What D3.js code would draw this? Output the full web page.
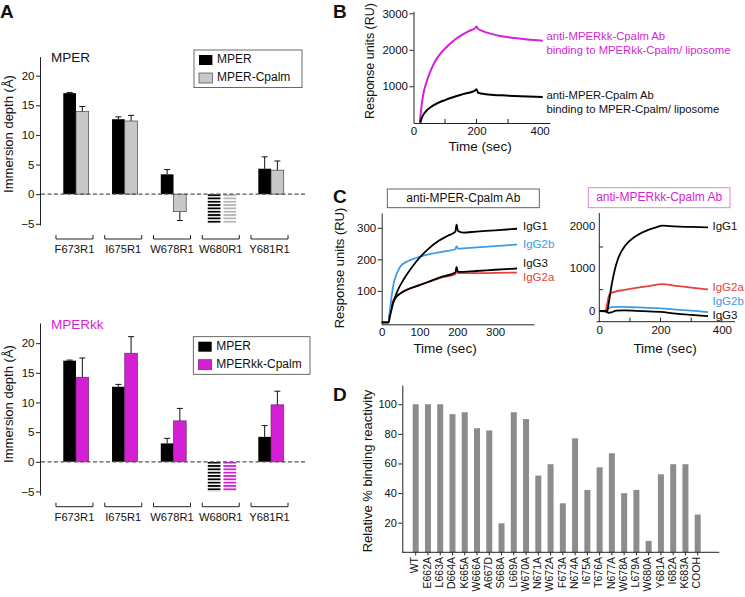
<!DOCTYPE html>
<html><head><meta charset="utf-8">
<script src="https://cdn.jsdelivr.net/npm/d3@7"></script>
<style>
body{margin:0;background:#fff}
svg{display:block}
text{font-family:"Liberation Sans",Arial,Helvetica,sans-serif}
</style>
</head><body>
<svg id="c" width="745" height="597"></svg>
<script>
// ---------------- DATA ----------------
const residues = ["F673R1","I675R1","W678R1","W680R1","Y681R1"];
const hatched = [false,false,false,true,false];
const depthTicks = [-5,0,5,10,15,20];
// panel A top: MPER vs MPER-Cpalm
const mperDepthTop = [17.05,12.65,3.35,-5,4.3];
const mperErrTop   = [0.1,0.4,0.8,0,2.0];
const cpalmDepth   = [13.95,12.35,-2.95,-5,4.05];
const cpalmErr     = [0.85,0.95,1.5,0,1.55];
// panel A bottom: MPER vs MPERkk-Cpalm
const mperDepthBot = [17.05,12.65,3.1,-5,4.2];
const mperErrBot   = [0.1,0.4,0.85,0,1.9];
const kkDepth      = [14.25,18.3,6.9,-5,9.6];
const kkErr        = [3.25,2.8,2.1,0,2.3];

// panel B: SPR sensorgrams [time s, RU]
const bKkCurve = [[20,0],[23,260],[27,560],[32,820],[40,1080],[50,1330],[60,1540],[75,1770],[90,1940],[110,2120],[130,2270],[150,2390],[175,2510],[196,2600],[200,2640],[204,2580],[220,2510],[250,2430],[280,2370],[320,2320],[360,2280],[410,2250]];
const bMperCurve = [[22,0],[25,100],[30,200],[40,320],[55,430],[75,530],[100,620],[130,710],[160,790],[195,880],[200,920],[205,820],[230,780],[280,750],[340,725],[410,705]];
const bTicksY = [1000,2000,3000];
const bTicksX = [0,200,400];

// panel C left: anti-MPER-Cpalm Ab isotypes
const cL_IgG1  = [[0,0],[18,0],[22,20],[30,60],[40,95],[60,140],[80,175],[100,205],[125,235],[150,258],[175,275],[195,288],[198,310],[202,290],[215,285],[250,288],[300,292],[358,297]];
const cL_IgG2b = [[0,0],[18,0],[22,40],[27,90],[33,130],[40,155],[50,178],[65,192],[80,200],[100,208],[130,217],[160,224],[195,232],[198,242],[202,234],[250,238],[300,242],[358,247]];
const cL_IgG3  = [[0,0],[18,0],[22,30],[28,55],[35,75],[50,92],[70,105],[100,118],[130,132],[160,145],[195,158],[198,176],[202,160],[250,163],[300,167],[358,171]];
const cL_IgG2a = [[0,0],[18,0],[22,35],[28,62],[35,78],[50,93],[70,106],[100,118],[130,131],[160,143],[195,153],[198,165],[202,156],[250,156],[300,157],[358,158]];
const cLTicksY = [100,200,300];
const cLTicksX = [0,100,200,300];

// panel C right: anti-MPERkk-Cpalm Ab isotypes
const cR_IgG1  = [[0,0],[20,0],[25,-20],[30,150],[40,600],[50,950],[60,1200],[75,1430],[100,1650],[130,1800],[160,1900],[190,1970],[205,2000],[230,1990],[300,1970],[355,1960]];
const cR_IgG2a = [[0,0],[20,0],[25,150],[30,330],[35,400],[50,450],[78,490],[120,540],[160,585],[205,630],[250,590],[300,550],[355,505]];
const cR_IgG2b = [[0,0],[20,0],[25,20],[30,60],[40,90],[70,95],[120,85],[200,60],[250,35],[300,10],[355,-25]];
const cR_IgG3  = [[0,0],[20,-5],[30,-40],[40,-30],[55,10],[80,15],[120,5],[200,-20],[250,-60],[300,-90],[355,-120]];
const cRTicksY = [0,1000,2000];
const cRTicksX = [0,200,400];

// panel D: alanine scan
const mutants = ["WT","E662A","L663A","D664A","K665A","W666A","A667D","S668A","L669A","W670A","N671A","W672A","F673A","N674A","I675A","T676A","N677A","W678A","L679A","W680A","Y681A","I682A","K683A","COOH"];
const reactivity = [100,100,100,93.3,94.6,83.8,82.3,19.6,94.6,90,51.8,59.5,33.1,77,42.1,57.4,66.9,39.9,42.1,7.7,52.7,59.5,59.5,25.5];
const dTicksY = [20,40,60,80,100];

// ---------------- STYLE ----------------
const MAG = "#d41fd4", RED = "#e8403c", BLUE = "#3c9be6", GRAY = "#c8c8c8", DGRAY = "#8c8c8c";
const FONT = '"Liberation Sans",Arial,Helvetica,sans-serif';
const fmt = d3.format("d");
const svg = d3.select("#c");
svg.append("rect").attr("width",745).attr("height",597).attr("fill","#fff");
const defs = svg.append("defs");

function styleAxis(g, fs){
  g.attr("font-family", FONT);
  g.selectAll("path,line").attr("stroke","#222").attr("stroke-width",1);
  g.selectAll("text").attr("font-size",fs).attr("fill","#111");
}
function label(x,y,t,o={}){
  const e = svg.append("text").attr("x",x).attr("y",y).text(t)
    .attr("font-size",o.fs||12).attr("fill",o.fill||"#111")
    .attr("text-anchor",o.anchor||"start").attr("dominant-baseline",o.base||"auto");
  if(o.weight) e.attr("font-weight",o.weight);
  if(o.rot) e.attr("transform",`rotate(${o.rot},${x},${y})`);
  return e;
}

// panel letters
label(0,18,"A",{fs:19,weight:"bold"});
label(333,18,"B",{fs:19,weight:"bold"});
label(333,203,"C",{fs:19,weight:"bold"});
label(333,401,"D",{fs:19,weight:"bold"});

// ---------------- PANEL A ----------------
function depthPanel(cfg){
  const y = d3.scaleLinear().domain(cfg.ydom).range(cfg.yrange);
  const x = d3.scaleBand().domain(residues).range([51.6,295.4]);
  const bw = 12.7;
  const y0 = y(0);
  const mk = (id,col)=>{
    const p = defs.append("pattern").attr("id",id).attr("patternUnits","userSpaceOnUse")
      .attr("width",6).attr("height",3.33).attr("y",y0);
    p.append("rect").attr("width",6).attr("height",1.8).attr("fill",col);
  };
  mk(cfg.id+"h1","#000"); mk(cfg.id+"h2",cfg.hatchCol);

  const ax = svg.append("g").attr("transform","translate(40,0)")
    .call(d3.axisLeft(y).tickValues(depthTicks).tickSize(4).tickPadding(1.5).tickSizeOuter(0));
  styleAxis(ax,11.5);

  const cx = r => x(r)+x.bandwidth()/2;
  const series = [
    {vals:cfg.v1,errs:cfg.e1,fill:"#000",stroke:"none",hatch:cfg.id+"h1",off:i=>hatched[i]?-bw-1.8:-bw},
    {vals:cfg.v2,errs:cfg.e2,fill:cfg.col2,stroke:cfg.stroke2,hatch:cfg.id+"h2",off:i=>hatched[i]?1.2:0}
  ];
  series.forEach(s=>{
    residues.forEach((r,i)=>{
      const v = s.vals[i];
      const bx = cx(r)+s.off(i);
      const top = Math.min(y(v),y0), h = Math.abs(y(v)-y0);
      if(hatched[i]){
        svg.append("rect").attr("x",bx).attr("y",top).attr("width",bw).attr("height",h)
          .attr("fill",`url(#${s.hatch})`);
      } else {
        svg.append("rect").attr("x",bx).attr("y",top).attr("width",bw).attr("height",h)
          .attr("fill",s.fill).attr("stroke",s.stroke).attr("stroke-width",0.7);
        const e = s.errs[i];
        if(e>0){
          const ye = v>=0 ? y(v+e) : y(v-e);
          const xm = bx+bw/2;
          svg.append("line").attr("x1",xm).attr("x2",xm).attr("y1",y(v)).attr("y2",ye).attr("stroke","#111").attr("stroke-width",1);
          svg.append("line").attr("x1",xm-3).attr("x2",xm+3).attr("y1",ye).attr("y2",ye).attr("stroke","#111").attr("stroke-width",1);
        }
      }
    });
  });
  svg.append("line").attr("x1",41).attr("x2",306.7).attr("y1",y0).attr("y2",y0)
    .attr("stroke","#555").attr("stroke-width",1.3).attr("stroke-dasharray","4,2.5");
  residues.forEach(r=>{
    const c = cx(r)-1.5;
    svg.append("path").attr("d",`M${c-18.5},${cfg.by-4}V${cfg.by}H${c+18.5}V${cfg.by-4}`)
      .attr("fill","none").attr("stroke","#222").attr("stroke-width",1);
    label(c,cfg.by+14,r,{fs:11.2,anchor:"middle"});
  });
  label(51,cfg.ty,cfg.title,{fs:13.5,fill:cfg.titleCol});
  label(10,cfg.ly,"Immersion depth (Å)",{fs:13,anchor:"middle",base:"middle",rot:-90});
  const L = cfg.leg;
  svg.append("rect").attr("x",L.x).attr("y",L.y).attr("width",L.w).attr("height",37.6)
    .attr("fill","#fff").attr("stroke","#444").attr("stroke-width",0.8);
  svg.append("rect").attr("x",L.x+5).attr("y",L.y+5).attr("width",13.4).attr("height",10).attr("fill","#000");
  svg.append("rect").attr("x",L.x+5).attr("y",L.y+23).attr("width",13.4).attr("height",10)
    .attr("fill",cfg.col2).attr("stroke",cfg.stroke2).attr("stroke-width",0.7);
  label(L.x+23,L.y+10,"MPER",{fs:12,base:"middle"});
  label(L.x+23,L.y+28,cfg.leg2,{fs:12,base:"middle"});
}

depthPanel({id:"t",ydom:[-5.2,23.2],yrange:[225,56.7],v1:mperDepthTop,e1:mperErrTop,v2:cpalmDepth,e2:cpalmErr,
  col2:GRAY,stroke2:"#444",hatchCol:"#b5b5b5",by:239,ty:62,title:"MPER",titleCol:"#111",ly:134,
  leg:{x:194,y:50,w:108},leg2:"MPER-Cpalm"});
depthPanel({id:"b",ydom:[-5.6,23.4],yrange:[495,323],v1:mperDepthBot,e1:mperErrBot,v2:kkDepth,e2:kkErr,
  col2:MAG,stroke2:"#6a2a6a",hatchCol:MAG,by:506.7,ty:329,title:"MPERkk",titleCol:MAG,ly:404,
  leg:{x:193.3,y:336.7,w:116.7},leg2:"MPERkk-Cpalm"});

// ---------------- PANEL B ----------------
(function(){
  const x = d3.scaleLinear().domain([0,433]).range([413.5,550]);
  const y = d3.scaleLinear().domain([0,3050]).range([122.7,11.5]);
  const ay = svg.append("g").attr("transform","translate(413.5,0)")
    .call(d3.axisLeft(y).tickValues(bTicksY).tickFormat(fmt).tickSize(4).tickPadding(1.5).tickSizeOuter(0));
  styleAxis(ay,11.5);
  const axg = svg.append("g").attr("transform","translate(0,123)")
    .call(d3.axisBottom(x).tickValues(bTicksX).tickFormat(fmt).tickSize(0).tickPadding(4).tickSizeOuter(0));
  styleAxis(axg,11.5);
  [100,200,300].forEach(t=>svg.append("line").attr("x1",x(t)).attr("x2",x(t)).attr("y1",123).attr("y2",119).attr("stroke","#222"));
  const line = d3.line().x(d=>x(d[0])).y(d=>y(d[1])).curve(d3.curveMonotoneX);
  svg.append("path").attr("d",line(bKkCurve)).attr("fill","none").attr("stroke",MAG).attr("stroke-width",2);
  svg.append("path").attr("d",line(bMperCurve)).attr("fill","none").attr("stroke","#000").attr("stroke-width",2);
  label(480,151,"Time (sec)",{fs:13.5,anchor:"middle"});
  label(371,61,"Response units (RU)",{fs:12.5,anchor:"middle",base:"middle",rot:-90});
  label(546.5,40,"anti-MPERkk-Cpalm Ab",{fs:11.3,fill:MAG});
  label(546.5,54,"binding to MPERkk-Cpalm/ liposome",{fs:11.3,fill:MAG});
  label(546.5,99,"anti-MPER-Cpalm Ab",{fs:11.3});
  label(546.5,112.5,"binding to MPER-Cpalm/ liposome",{fs:11.3});
})();

// ---------------- PANEL C left ----------------
(function(){
  const x = d3.scaleLinear().domain([0,403]).range([381.7,534]);
  const y = d3.scaleLinear().domain([-6,347]).range([324.3,213]);
  const ay = svg.append("g").attr("transform","translate(381.7,0)")
    .call(d3.axisLeft(y).tickValues(cLTicksY).tickFormat(fmt).tickSize(4).tickPadding(1.5).tickSizeOuter(0));
  styleAxis(ay,11.5);
  const axg = svg.append("g").attr("transform","translate(0,324.3)")
    .call(d3.axisBottom(x).tickValues(cLTicksX).tickFormat(fmt).tickSize(0).tickPadding(4).tickSizeOuter(0));
  styleAxis(axg,11.5);
  const line = d3.line().x(d=>x(d[0])).y(d=>y(d[1])).curve(d3.curveMonotoneX);
  [[cL_IgG2a,RED],[cL_IgG3,"#000"],[cL_IgG2b,BLUE],[cL_IgG1,"#000"]].forEach(([d,c])=>
    svg.append("path").attr("d",line(d)).attr("fill","none").attr("stroke",c).attr("stroke-width",1.8));
  label(523,227,"IgG1",{fs:11.5,base:"middle"});
  label(523,244.5,"IgG2b",{fs:11.5,base:"middle",fill:BLUE});
  label(523,264,"IgG3",{fs:11.5,base:"middle"});
  label(523,278,"IgG2a",{fs:11.5,base:"middle",fill:RED});
  svg.append("rect").attr("x",387.3).attr("y",189).attr("width",152).attr("height",18.7)
    .attr("fill","#fff").attr("stroke","#555").attr("stroke-width",0.9);
  label(463.3,198.5,"anti-MPER-Cpalm Ab",{fs:12,anchor:"middle",base:"middle"});
  label(445,353,"Time (sec)",{fs:13.5,anchor:"middle"});
  label(341,268,"Response units (RU)",{fs:13,anchor:"middle",base:"middle",rot:-90});
})();

// ---------------- PANEL C right ----------------
(function(){
  const x = d3.scaleLinear().domain([0,443]).range([599.3,735]);
  const y = d3.scaleLinear().domain([-250,2295]).range([321.7,213]);
  const ay = svg.append("g").attr("transform","translate(599.3,0)")
    .call(d3.axisLeft(y).tickValues(cRTicksY).tickFormat(fmt).tickSize(0).tickPadding(4).tickSizeOuter(0));
  styleAxis(ay,11.5);
  ay.select(".domain").attr("d",`M0,${y(-160)}V213`);
  [500,1500].forEach(v=>svg.append("line").attr("x1",599.3).attr("x2",603).attr("y1",y(v)).attr("y2",y(v)).attr("stroke","#222"));
  const axg = svg.append("g").attr("transform","translate(0,321.7)")
    .call(d3.axisBottom(x).tickValues(cRTicksX).tickFormat(fmt).tickSize(0).tickPadding(4).tickSizeOuter(0));
  styleAxis(axg,11.5);
  axg.select(".domain").attr("d","M596.7,0H735");
  [0,100,200,300,400].forEach(t=>svg.append("line").attr("x1",x(t)).attr("x2",x(t)).attr("y1",321.7).attr("y2",317.7).attr("stroke","#222"));
  const line = d3.line().x(d=>x(d[0])).y(d=>y(d[1])).curve(d3.curveMonotoneX);
  [[cR_IgG3,"#000"],[cR_IgG2b,BLUE],[cR_IgG2a,RED],[cR_IgG1,"#000"]].forEach(([d,c])=>
    svg.append("path").attr("d",line(d)).attr("fill","none").attr("stroke",c).attr("stroke-width",1.8));
  label(712.5,227,"IgG1",{fs:11.5,base:"middle"});
  label(712.5,288,"IgG2a",{fs:11.5,base:"middle",fill:RED});
  label(712.5,302,"IgG2b",{fs:11.5,base:"middle",fill:BLUE});
  label(712.5,315.5,"IgG3",{fs:11.5,base:"middle"});
  svg.append("rect").attr("x",588.3).attr("y",187.7).attr("width",141.7).attr("height",20)
    .attr("fill","#fff").attr("stroke","#d77bd7").attr("stroke-width",0.9);
  label(659.2,198,"anti-MPERkk-Cpalm Ab",{fs:12,anchor:"middle",base:"middle",fill:MAG});
  label(665,353,"Time (sec)",{fs:13.5,anchor:"middle"});
})();

// ---------------- PANEL D ----------------
(function(){
  const x = d3.scalePoint().domain(mutants).range([415.7,697.7]);
  const y = d3.scaleLinear().domain([0,113]).range([552.3,385]);
  const ay = svg.append("g").attr("transform","translate(402.3,0)")
    .call(d3.axisLeft(y).tickValues(dTicksY).tickSize(4).tickPadding(1.5).tickSizeOuter(0));
  styleAxis(ay,11);
  svg.selectAll(".dbar").data(mutants).enter().append("rect")
    .attr("x",d=>x(d)-3).attr("width",6)
    .attr("y",(d,i)=>y(reactivity[i])).attr("height",(d,i)=>y(0)-y(reactivity[i]))
    .attr("fill",DGRAY);
  svg.append("line").attr("x1",402.3).attr("x2",719.3).attr("y1",y(0)).attr("y2",y(0)).attr("stroke","#222");
  mutants.forEach(m=>{
    svg.append("line").attr("x1",x(m)).attr("x2",x(m)).attr("y1",y(0)).attr("y2",y(0)+3).attr("stroke","#222");
    label(x(m),557,m,{fs:10.5,anchor:"end",base:"middle",rot:-90});
  });
  label(369,471,"Relative % binding reactivity",{fs:13,anchor:"middle",base:"middle",rot:-90});
})();
</script>
</body></html>
